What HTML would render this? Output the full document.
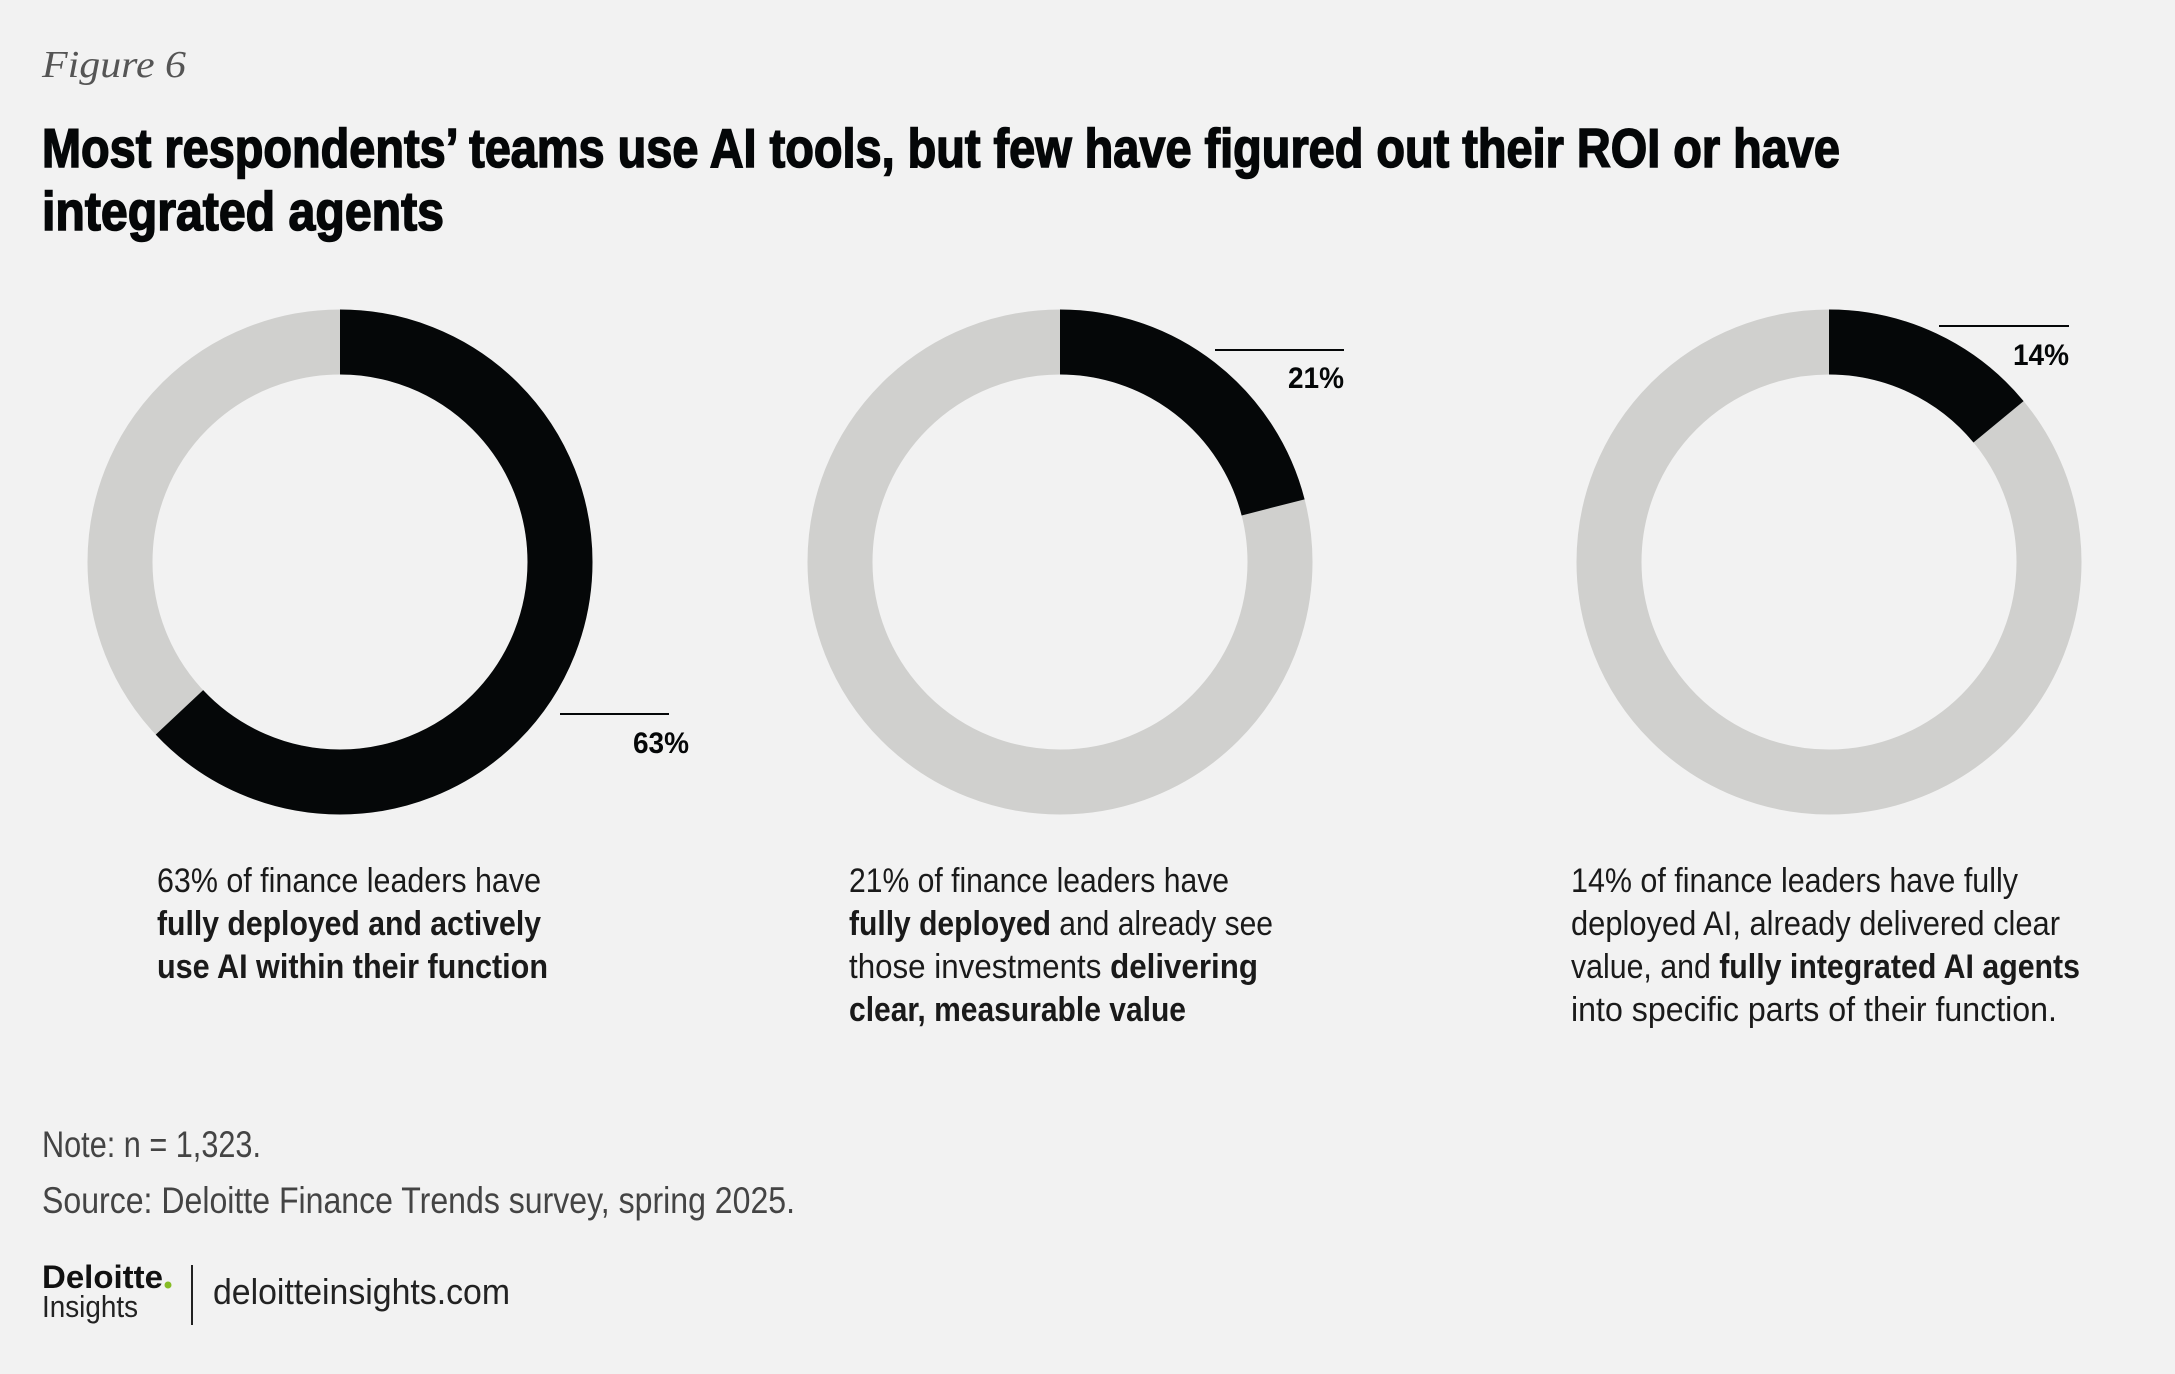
<!DOCTYPE html>
<html><head><meta charset="utf-8"><style>
html,body{margin:0;padding:0;background:#f2f2f2;}
svg{display:block;}
</style></head><body>
<svg width="2175" height="1374" viewBox="0 0 2175 1374" xmlns="http://www.w3.org/2000/svg" font-family="'Liberation Sans', sans-serif">
<rect width="2175" height="1374" fill="#f2f2f2"/>
<text x="42" y="77" font-family="'Liberation Serif', serif" font-style="italic" font-size="38" fill="#555" textLength="144" lengthAdjust="spacingAndGlyphs">Figure 6</text>
<text x="42" y="167" font-weight="bold" font-size="55" fill="#050708" stroke="#050708" stroke-width="1.6" textLength="1798" lengthAdjust="spacingAndGlyphs">Most respondents’ teams use AI tools, but few have figured out their ROI or have</text>
<text x="42" y="230" font-weight="bold" font-size="55" fill="#050708" stroke="#050708" stroke-width="1.6" textLength="402" lengthAdjust="spacingAndGlyphs">integrated agents</text>

<g fill="none" stroke-width="65">
<circle cx="340" cy="562" r="220" stroke="#d0d0ce"/>
<circle cx="340" cy="562" r="220" stroke="#050708" stroke-dasharray="870.9 2000" transform="rotate(-90 340 562)"/>
<circle cx="1060" cy="562" r="220" stroke="#d0d0ce"/>
<circle cx="1060" cy="562" r="220" stroke="#050708" stroke-dasharray="290.3 2000" transform="rotate(-90 1060 562)"/>
<circle cx="1829" cy="562" r="220" stroke="#d0d0ce"/>
<circle cx="1829" cy="562" r="220" stroke="#050708" stroke-dasharray="193.5 2000" transform="rotate(-90 1829 562)"/>
</g>

<g stroke="#050708" stroke-width="2">
<line x1="560" y1="714" x2="669" y2="714"/>
<line x1="1215" y1="350" x2="1344" y2="350"/>
<line x1="1939" y1="326" x2="2069" y2="326"/>
</g>
<g font-weight="bold" font-size="30" fill="#050708" text-anchor="end">
<text x="689" y="753" textLength="56" lengthAdjust="spacingAndGlyphs">63%</text>
<text x="1344" y="388" textLength="56" lengthAdjust="spacingAndGlyphs">21%</text>
<text x="2069" y="365" textLength="56" lengthAdjust="spacingAndGlyphs">14%</text>
</g>

<g font-size="34" fill="#1a1a1a">
<text x="157" y="892" textLength="384" lengthAdjust="spacingAndGlyphs">63% of finance leaders have</text>
<text x="157" y="935" font-weight="bold" textLength="384" lengthAdjust="spacingAndGlyphs">fully deployed and actively</text>
<text x="157" y="978" font-weight="bold" textLength="391" lengthAdjust="spacingAndGlyphs">use AI within their function</text>

<text x="849" y="892" textLength="380" lengthAdjust="spacingAndGlyphs">21% of finance leaders have</text>
<text x="849" y="935" textLength="424" lengthAdjust="spacingAndGlyphs"><tspan font-weight="bold">fully deployed</tspan> and already see</text>
<text x="849" y="978" textLength="409" lengthAdjust="spacingAndGlyphs">those investments <tspan font-weight="bold">delivering</tspan></text>
<text x="849" y="1021" font-weight="bold" textLength="337" lengthAdjust="spacingAndGlyphs">clear, measurable value</text>

<text x="1571" y="892" textLength="447" lengthAdjust="spacingAndGlyphs">14% of finance leaders have fully</text>
<text x="1571" y="935" textLength="489" lengthAdjust="spacingAndGlyphs">deployed AI, already delivered clear</text>
<text x="1571" y="978" textLength="509" lengthAdjust="spacingAndGlyphs">value, and <tspan font-weight="bold">fully integrated AI agents</tspan></text>
<text x="1571" y="1021" textLength="486" lengthAdjust="spacingAndGlyphs">into specific parts of their function.</text>
</g>

<g font-size="37" fill="#444">
<text x="42" y="1157" textLength="219" lengthAdjust="spacingAndGlyphs">Note: n = 1,323.</text>
<text x="42" y="1213" textLength="753" lengthAdjust="spacingAndGlyphs">Source: Deloitte Finance Trends survey, spring 2025.</text>
</g>

<text x="42" y="1288" font-weight="bold" font-size="32" fill="#111" textLength="121" lengthAdjust="spacingAndGlyphs">Deloitte</text>
<circle cx="168" cy="1285" r="3.5" fill="#86bc25"/>
<text x="42" y="1317" font-size="31" fill="#222" textLength="96" lengthAdjust="spacingAndGlyphs">Insights</text>
<line x1="192" y1="1265" x2="192" y2="1325" stroke="#222" stroke-width="2"/>
<text x="213" y="1304" font-size="36" fill="#222" textLength="297" lengthAdjust="spacingAndGlyphs">deloitteinsights.com</text>
</svg>
</body></html>
